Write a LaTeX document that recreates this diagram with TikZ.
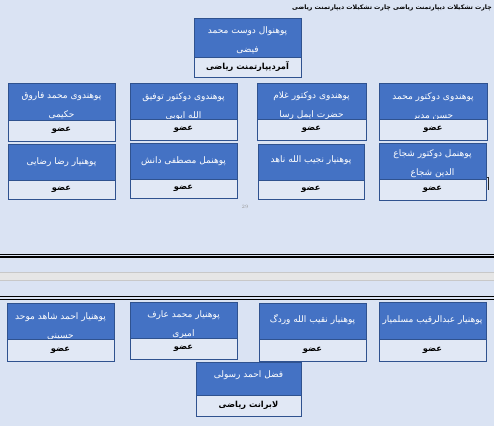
\documentclass[tikz,border=0pt]{standalone}
\usepackage{fontspec}
\usetikzlibrary{fit}
\newfontfamily\arabicfont[Script=Arabic]{DejaVu Sans}
\TeXXeTstate=1
\newcommand{\artxt}[1]{\beginR #1\endR}
\definecolor{bgcol}{HTML}{DAE3F3}
\definecolor{boxblue}{HTML}{4472C4}
\definecolor{boxedge}{HTML}{2F528F}
\definecolor{lowfill}{HTML}{E1E8F5}
\definecolor{bandfill}{HTML}{E6E6E6}
\definecolor{bandedge}{HTML}{C8C8C8}
\newcommand{\orgbox}[9]{%
  \node[bluebox, fit={(#2,#3) (#4,#5)}] (#1) {};
  \node[bluetext] (#1t) at ({(#2+#4)/2},#7) {#8};
  \node[whitebox, fit={(#2,#5) (#4,#6)}] (#1w) {};
  \node[membertext] (#1m) at (#1w.center) {#9};
}
\begin{document}
\begin{tikzpicture}[x=1pt,y=-1pt,
  bluebox/.style={draw=boxedge, fill=boxblue, line width=0.9pt, inner sep=0pt},
  whitebox/.style={draw=boxedge, fill=lowfill, line width=0.9pt, inner sep=0pt},
  bluetext/.style={text=white, align=center, inner sep=0pt, font=\arabicfont\fontsize{9}{19}\selectfont},
  membertext/.style={text=black, inner sep=0pt, font=\arabicfont\bfseries\fontsize{8.3}{9}\selectfont},
  titletext/.style={text=black, inner sep=0pt, anchor=east, font=\arabicfont\bfseries\fontsize{6.2}{7}\selectfont}]
\fill[bgcol] (0,0) rectangle (494,426);
\useasboundingbox (0,0) rectangle (494,426);
% title
\node[titletext] (title) at (492,8) {\artxt{چارت تشکیلات دیپارتمنت ریاضی چارت تشکیلات دیپارتمنت ریاضی}};
% head
\orgbox{head}{194}{18}{301}{57}{77}{40}{\artxt{پوهنوال دوست محمد}\\\artxt{فیضی}}{\artxt{آمردیپارتمنت ریاضی}}
% row 1
\orgbox{ra}{379}{83}{487}{119}{140}{106.5}{\artxt{پوهندوی دوکتور محمد}\\\artxt{حسن مدبر}}{\artxt{عضو}}
\orgbox{rb}{257}{83}{366}{119}{140}{105.5}{\artxt{پوهندوی دوکتور غلام}\\\artxt{حضرت ایمل رسا}}{\artxt{عضو}}
\orgbox{rc}{130}{83}{237}{119}{140}{106.5}{\artxt{پوهندوی دوکتور توفیق}\\\artxt{الله ایوبی}}{\artxt{عضو}}
\orgbox{rd}{8}{83}{115}{120}{141}{105.5}{\artxt{پوهندوی محمد فاروق}\\\artxt{حکیمی}}{\artxt{عضو}}
% row 2
\orgbox{sa}{379}{143}{486}{179}{200}{164}{\artxt{پوهنمل دوکتور شجاع}\\\artxt{الدین شجاع}}{\artxt{عضو}}
\orgbox{sb}{258}{144}{364}{180}{199}{160}{\artxt{پوهنیار نجیب الله ناهد}}{\artxt{عضو}}
\orgbox{sc}{130}{143}{237}{179}{198}{161}{\artxt{پوهنمل مصطفی دانش}}{\artxt{عضو}}
\orgbox{sd}{8}{144}{115}{180}{199}{162}{\artxt{پوهنیار رضا رضایی}}{\artxt{عضو}}
% page number and mark
\node[text=gray!80, inner sep=0pt, font=\fontsize{5}{6}\selectfont] (pnum) at (245,207) {29};
\coordinate (mka) at (486.5,177);
\coordinate (mkb) at (488,177);
\coordinate (mkc) at (488,190);
\draw[line width=0.9pt, black!85] (mka) -- (mkb) -- (mkc);
% separator lines
\draw[line width=0.7pt] (0,254) -- (494,254);
\draw[line width=1.6pt] (0,256.7) -- (494,256.7);
\draw[fill=bandfill, draw=bandedge, line width=0.6pt] (-1,272) rectangle (495,280);
\draw[line width=1.6pt] (0,296.5) -- (494,296.5);
\draw[line width=0.7pt] (0,299.2) -- (494,299.2);
% bottom row
\orgbox{ta}{379}{302}{486}{339}{361}{320}{\artxt{پوهنیار عبدالرقیب مسلمیار}}{\artxt{عضو}}
\orgbox{tb}{259}{303}{366}{339}{361}{320}{\artxt{پوهنیار نقیب الله وردگ}}{\artxt{عضو}}
\orgbox{tc}{130}{302}{237}{338}{359}{324.5}{\artxt{پوهنیار محمد عارف}\\\artxt{امیری}}{\artxt{عضو}}
\orgbox{td}{7}{303}{114}{339}{361}{326}{\artxt{پوهنیار احمد شاهد موحد}\\\artxt{حسینی}}{\artxt{عضو}}
\orgbox{lab}{196}{362}{301}{395}{416}{375}{\artxt{فضل احمد رسولی}}{\artxt{لابرانت ریاضی}}
\end{tikzpicture}
\end{document}
